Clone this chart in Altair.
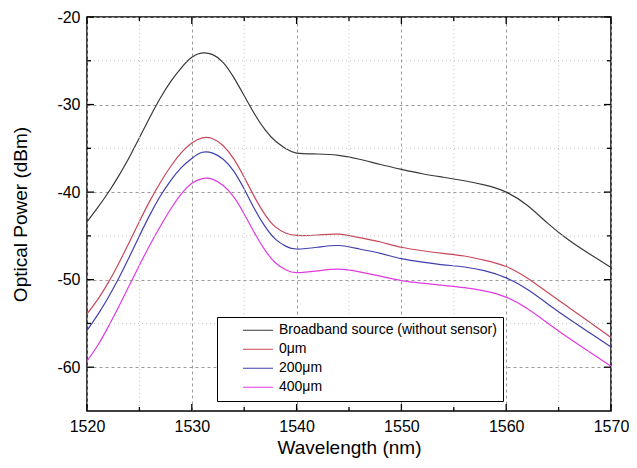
import altair as alt
import pandas as pd

wavelength = [1520, 1521, 1522, 1523, 1524, 1525, 1526, 1527, 1528, 1529, 1530, 1531,
              1532, 1533, 1534, 1535, 1536, 1537, 1538, 1539, 1540, 1542, 1544, 1546,
              1548, 1550, 1552, 1554, 1556, 1558, 1560, 1562, 1564, 1566, 1568, 1570]
broadband = [-43.4, -41.8, -40.1, -38.2, -36.1, -33.8, -31.45, -29.25, -27.35, -25.8, -24.6, -24.1,
             -24.3, -25.2, -26.9, -29.0, -31.1, -32.9, -34.2, -35.05, -35.55, -35.65, -35.8, -36.25,
             -36.85, -37.4, -37.9, -38.3, -38.7, -39.2, -40.0, -41.5, -43.6, -45.5, -47.1, -48.6]
um0 = [-53.9, -52.3, -50.4, -48.2, -45.8, -43.35, -41.0, -38.9, -37.05, -35.5, -34.4, -33.8,
       -33.9, -34.7, -36.2, -38.3, -40.6, -42.6, -44.0, -44.7, -44.95, -44.9, -44.8, -45.2,
       -45.7, -46.3, -46.7, -47.0, -47.3, -47.8, -48.5, -49.8, -51.5, -53.2, -54.9, -56.6]
um200 = [-55.8, -54.05, -52.1, -49.9, -47.5, -45.0, -42.6, -40.45, -38.65, -37.2, -36.15, -35.45,
         -35.55, -36.25, -37.6, -39.65, -41.95, -43.95, -45.4, -46.2, -46.5, -46.3, -46.1, -46.5,
         -47.0, -47.6, -48.0, -48.3, -48.55, -49.0, -49.8, -51.1, -52.8, -54.5, -56.1, -57.7]
um400 = [-59.3, -57.55, -55.45, -53.15, -50.75, -48.35, -46.05, -43.9, -41.9, -40.2, -39.0, -38.45,
         -38.55, -39.25, -40.55, -42.5, -44.7, -46.65, -48.1, -48.9, -49.2, -49.0, -48.8, -49.1,
         -49.6, -50.1, -50.4, -50.65, -50.9, -51.3, -52.0, -53.3, -55.0, -56.7, -58.3, -59.9]

series_names = ["Broadband source (without sensor)", "0μm", "200μm", "400μm"]
series_colors = ["#3a3a3a", "#c8485a", "#3f3fae", "#e03be0"]

x_major = [1520, 1530, 1540, 1550, 1560, 1570]
x_minor = [1525, 1535, 1545, 1555, 1565]
y_major = [-20, -30, -40, -50, -60]
y_minor = [-25, -35, -45, -55]

W, H = 524, 394
FONT = "Liberation Sans"

rows = []
for name, vals in zip(series_names, [broadband, um0, um200, um400]):
    for w, v in zip(wavelength, vals):
        rows.append({"wl": w, "p": v, "s": name})
df = pd.DataFrame(rows)

xs = alt.Scale(domain=[1520, 1570], nice=False, zero=False)
ys = alt.Scale(domain=[-65, -20], nice=False, zero=False)

lines = alt.Chart(df).mark_line(interpolate="natural", strokeWidth=1.2).encode(
    x=alt.X("wl:Q", scale=xs, title="Wavelength (nm)",
            axis=alt.Axis(values=x_major, grid=True, gridDash=[3, 3], gridColor="#9a9a9a",
                          gridWidth=1, ticks=False, domain=False, labelFontSize=16,
                          labelPadding=7, titleFontSize=19, titleFontWeight="normal",
                          titlePadding=4, labelColor="black", titleColor="black",
                          labelFlush=False, labelExpr="'' + datum.value")),
    y=alt.Y("p:Q", scale=ys, title="Optical Power (dBm)",
            axis=alt.Axis(values=y_major, grid=True, gridDash=[3, 3], gridColor="#9a9a9a",
                          gridWidth=1, ticks=False, domain=False, labelFontSize=16,
                          labelPadding=7, titleFontSize=19, titleFontWeight="normal",
                          titlePadding=26, labelColor="black", titleColor="black",
                          labelFlush=False, labelExpr="'' + datum.value")),
    color=alt.Color("s:N", scale=alt.Scale(domain=series_names, range=series_colors),
                    sort=series_names,
                    legend=alt.Legend(orient="none", legendX=130, legendY=300, title=None,
                                      symbolType="stroke", symbolSize=900,
                                      symbolStrokeWidth=1.2, labelFontSize=14,
                                      labelColor="black", strokeColor="black",
                                      fillColor="white", padding=6, symbolOffset=19,
                                      labelOffset=5, rowPadding=4, clipHeight=14.5,
                                      labelLimit=400)),
    detail="s:N",
)

minor_x_grid = alt.Chart(pd.DataFrame({"wl": x_minor})).mark_rule(
    color="#c8c8c8", strokeDash=[1, 3], strokeWidth=1).encode(
    x=alt.X("wl:Q", scale=xs))
minor_y_grid = alt.Chart(pd.DataFrame({"p": y_minor})).mark_rule(
    color="#c8c8c8", strokeDash=[1, 3], strokeWidth=1).encode(
    y=alt.Y("p:Q", scale=ys))


def xticks(vals, y0, y1):
    return alt.Chart(pd.DataFrame({"wl": vals})).mark_rule(color="black", strokeWidth=1.3).encode(
        x=alt.X("wl:Q", scale=xs), y=alt.value(y0), y2=alt.value(y1))


def yticks(vals, x0, x1):
    return alt.Chart(pd.DataFrame({"p": vals})).mark_rule(color="black", strokeWidth=1.3).encode(
        y=alt.Y("p:Q", scale=ys), x=alt.value(x0), x2=alt.value(x1))


tick_layers = [
    xticks(x_major, 0, 7), xticks(x_minor, 0, 4),
    xticks(x_major, H, H - 7), xticks(x_minor, H, H - 4),
    yticks(y_major, 0, 7), yticks(y_minor, 0, 4),
    yticks(y_major, W, W - 7), yticks(y_minor, W, W - 4),
]

chart = alt.layer(lines, minor_x_grid, minor_y_grid, *tick_layers).properties(
    width=W, height=H,
    autosize="none",
    padding={"left": 79, "top": 9, "right": 18, "bottom": 49},
).configure(font=FONT).configure_view(
    stroke="black", strokeWidth=1.5
)

chart.save("out.html", embed_options={"renderer": "svg", "actions": False})
